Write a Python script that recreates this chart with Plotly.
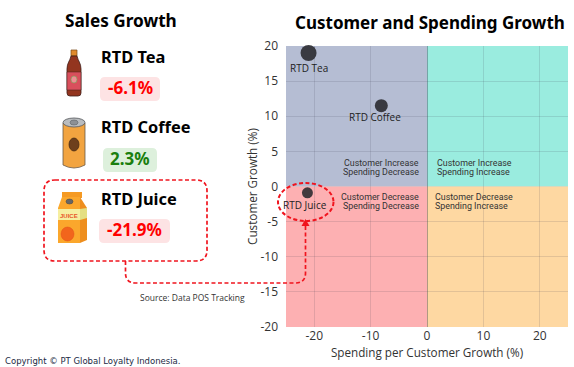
import plotly.graph_objects as go

# ---------- data ----------
products = ["RTD Tea", "RTD Coffee", "RTD Juice"]
sales_growth = [-6.1, 2.3, -21.9]
spending_growth = [-21.0, -8.1, -21.2]
customer_growth = [19.0, 11.5, -0.9]
bubble_size = [16, 13, 11]
x_ticks = [-20, -10, 0, 10, 20]
y_ticks = [-20, -15, -10, -5, 0, 5, 10, 15, 20]
quadrant_labels = [("Customer Increase", "Spending Decrease"), ("Customer Increase", "Spending Increase"),
                   ("Customer Decrease", "Spending Decrease"), ("Customer Decrease", "Spending Increase")]
chart_title = "Customer and Spending Growth"
left_title = "Sales Growth"
source_text = "Source: Data POS Tracking"
copyright_text = "Copyright © PT Global Loyalty Indonesia."

# ---------- layout helpers (pixel → paper) ----------
W, H = 574, 367
L, R, T, B = 286, 568, 46, 327
FONT = "Open Sans"
TITLE_FONT = "Noto Sans"
px = lambda x: (x - L) / (R - L)
py = lambda y: (B - y) / (B - T)


def path(cmds):
    parts = []
    for c in cmds:
        if isinstance(c, str):
            parts.append(c)
        else:
            parts.append(f"{px(c[0]):.5f},{py(c[1]):.5f}")
    return " ".join(parts)


def add_path(cmds, fill="rgba(0,0,0,0)", line="rgba(0,0,0,0)", width=1, dash="solid"):
    shapes.append(dict(type="path", xref="paper", yref="paper", path=path(cmds), fillcolor=fill,
                       line=dict(color=line, width=width, dash=dash), layer="above"))


def round_rect(x0, y0, x1, y1, r, **kw):
    add_path(["M", (x0 + r, y0), "L", (x1 - r, y0), "Q", (x1, y0), (x1, y0 + r), "L", (x1, y1 - r),
              "Q", (x1, y1), (x1 - r, y1), "L", (x0 + r, y1), "Q", (x0, y1), (x0, y1 - r), "L", (x0, y0 + r),
              "Q", (x0, y0), (x0 + r, y0), "Z"], **kw)


def ellipse(x0, y0, x1, y1, fill="rgba(0,0,0,0)", line="rgba(0,0,0,0)", width=1, dash="solid"):
    shapes.append(dict(type="circle", xref="paper", yref="paper", x0=px(x0), x1=px(x1), y0=py(y0), y1=py(y1),
                       fillcolor=fill, line=dict(color=line, width=width, dash=dash), layer="above"))


def label(x, y, text, size, color="#000", font=FONT, anchor="left", bold=False):
    annotations.append(dict(xref="paper", yref="paper", x=px(x), y=py(y), text=f"<b>{text}</b>" if bold else text,
                            showarrow=False, xanchor=anchor, yanchor="middle",
                            font=dict(size=size, color=color, family=font)))


shapes, annotations = [], []

# ---------- quadrants ----------
for x0, x1, y0, y1, col in [(-25, 0, 0, 20, "#b5bdd3"), (0, 25, 0, 20, "#9aecdf"),
                            (-25, 0, -20, 0, "#fdb0b2"), (0, 25, -20, 0, "#fed8a2")]:
    shapes.append(dict(type="rect", xref="x", yref="y", x0=x0, x1=x1, y0=y0, y1=y1,
                       fillcolor=col, line=dict(width=0), layer="below"))

# ---------- quadrant captions (one annotation per line for the tight leading) ----------
for (qx, qy, anc), (l1, l2) in zip([(421, 162.7, "right"), (434.7, 162.7, "left"),
                                    (421, 196.7, "right"), (432.7, 196.7, "left")], quadrant_labels):
    for k, line_text in enumerate((l1, l2)):
        label(qx, qy + 9 * k, line_text, 8.9, "#333", "Roboto", anc)

# ---------- pills and product names ----------
pills = [(100, 77, 160, 101, "#fde3e4"), (103, 148, 157, 172, "#ddf0dc"), (99, 219, 170, 243, "#fde3e4")]
name_y = [56, 127, 198]
for name, val, ny, (a, b, c, d, col) in zip(products, sales_growth, name_y, pills):
    round_rect(a, b, c, d, 5, fill=col)
    label(99, ny, name, 16.4, "#000", TITLE_FONT, bold=True)
    label((a + c) / 2, (b + d) / 2 - 1.5, f"{val}%", 17, "#ff0000" if val < 0 else "#1a7f0e", TITLE_FONT, "center", bold=True)

# ---------- tea bottle ----------
add_path(["M", (71, 50), "L", (77, 50), "L", (77, 56), "L", (71, 56), "Z"], fill="#e08a2c", line="#7a4a18", width=0.7)
add_path(["M", (71, 56), "L", (77, 56), "C", (78, 61), (81, 63), (81, 69), "L", (81, 93), "Q", (81, 96), (78, 96),
          "L", (70, 96), "Q", (67, 96), (67, 93), "L", (67, 69), "C", (67, 63), (70, 61), (71, 56), "Z"],
         fill="#93351f", line="#40201a", width=0.8)
add_path(["M", (67, 72), "L", (81, 72), "L", (81, 90), "L", (67, 90), "Z"], fill="#d94f5c", line="#40201a", width=0.5)
ellipse(71, 76, 77, 83, fill="#ee8f95", line="#7fa35a", width=0.7)

# ---------- coffee can ----------
add_path(["M", (63, 123), "L", (85, 123), "L", (85, 165), "Q", (74, 171), (63, 165), "Z"],
         fill="#f2a440", line="#6b5a48", width=0.8)
ellipse(63, 118, 85, 127, fill="#b9bcbf", line="#55585c", width=0.8)
ellipse(70, 120, 78, 125, fill="#8d9094", line="#55585c", width=0.5)
ellipse(69, 138, 79, 151, fill="#6e3f1c", line="#3e2410", width=0.7)

# ---------- juice carton ----------
add_path(["M", (62, 192), "L", (82, 192), "L", (82, 198), "L", (62, 198), "Z"], fill="#f59a23")
add_path(["M", (62, 197), "L", (80, 197), "L", (80, 243), "L", (58, 243), "L", (58, 208), "Z"], fill="#fba72c")
add_path(["M", (80, 197), "L", (87, 208), "L", (87, 240), "L", (80, 243), "Z"], fill="#ee8e1e")
add_path(["M", (58, 209), "L", (80, 209), "L", (80, 220), "L", (58, 220), "Z"], fill="#f6eea0")
add_path(["M", (80, 209), "L", (87, 208), "L", (87, 218), "L", (80, 220), "Z"], fill="#e4df82")
ellipse(66, 199, 73, 204, fill="#666", line="#444", width=0.5)
ellipse(61, 227, 74, 241, fill="#f2651c", line="#e2501a", width=0.5)
label(69, 216, "JUICE", 6, "#e8542a", "Liberation Sans", "center", bold=True)

# ---------- red callout ----------
RED = "#f0141e"
round_rect(44, 180, 207, 261, 11, line=RED, width=1.7, dash="4px,2.5px")
ellipse(278, 183, 333.5, 221, line=RED, width=2, dash="4px,2.5px")
add_path(["M", (125.5, 261), "L", (125.5, 273), "Q", (125.5, 283), (136, 283), "L", (295, 283),
          "Q", (305.5, 283), (305.5, 273), "L", (305.5, 224)], line=RED, width=1.7, dash="4px,2.5px")
add_path(["M", (305.5, 219), "L", (309.5, 226), "L", (301.5, 226), "Z"], fill=RED)

# ---------- texts ----------
label(120.5, 21, left_title, 17.2, "#000", TITLE_FONT, "center", bold=True)
label(430, 22, chart_title, 17, "#000", TITLE_FONT, "center", bold=True)
label(138, 297, source_text, 8.5, "#333")
label(3, 361, copyright_text, 8.5, "#1c2a44", "DejaVu Sans")

# ---------- point labels, anchored on the data ----------
for name, xv, yv, xs, ys in zip(products, spending_growth, customer_growth, [0, -6, -2], [15, 11, 12]):
    annotations.append(dict(xref="x", yref="y", x=xv, y=yv, text=name, showarrow=False, xshift=xs, yshift=-ys,
                            font=dict(size=10, color="#222", family=FONT)))

fig = go.Figure(go.Scatter(
    x=spending_growth, y=customer_growth, mode="markers", cliponaxis=False,
    marker=dict(size=bubble_size, color="rgba(40,40,44,0.88)", opacity=1, line=dict(width=0)),
))

axis_common = dict(showgrid=True, gridcolor="rgba(60,60,80,0.14)", gridwidth=1, showline=False, ticks="",
                   tickfont=dict(size=12, color="#333", family=FONT), zeroline=True)
fig.update_layout(
    width=W, height=H, autosize=False, showlegend=False, paper_bgcolor="white", plot_bgcolor="white",
    margin=dict(l=L, r=W - R, t=T, b=H - B, pad=0),
    shapes=shapes, annotations=annotations,
    xaxis=dict(range=[-25, 25], tickvals=x_ticks, ticktext=[str(v) for v in x_ticks],
               zerolinecolor="rgba(60,60,80,0.4)", zerolinewidth=1,
               title=dict(text="Spending per Customer Growth (%)", standoff=3,
                          font=dict(size=11.7, color="#333", family=FONT)), **axis_common),
    yaxis=dict(range=[-20, 20], tickvals=y_ticks, ticktext=[str(v) for v in y_ticks],
               ticklabelstandoff=7, zerolinecolor="rgba(60,60,80,0.08)", zerolinewidth=1,
               title=dict(text="Customer Growth (%)", standoff=0,
                          font=dict(size=11.7, color="#333", family=FONT)), **axis_common),
)
fig.write_html("out.html", config=dict(displayModeBar=False),
               post_script="document.body.style.margin='0';document.body.style.overflow='hidden';")
